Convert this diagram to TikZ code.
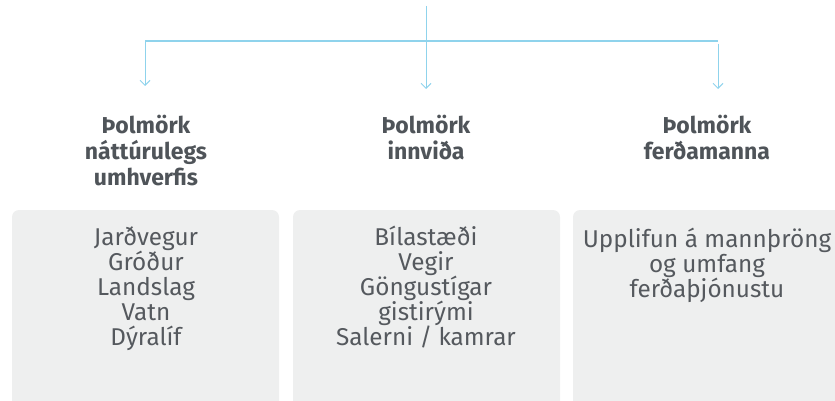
\documentclass[tikz,border=0pt]{standalone}
\usepackage{fontspec}
\setmainfont{Fira Sans}
\usetikzlibrary{arrows.meta}
\definecolor{linkblue}{HTML}{8FD3EC}
\definecolor{boxgray}{HTML}{EEEFEF}
\definecolor{headgray}{HTML}{4F5459}
\definecolor{bodygray}{HTML}{55595E}
\tikzset{
  link/.style={draw=linkblue, line width=1pt},
  linkarrow/.style={link, -{Straight Barb[length=5pt,width=10pt,line width=1pt]}},
  panel/.style={fill=boxgray, rounded corners=7pt, draw=none},
  header/.style={text=headgray, font=\fontsize{23}{26}\selectfont\bfseries, align=center, anchor=north, inner sep=0pt},
  body/.style={text=bodygray, font=\fontsize{24.3}{25}\selectfont, align=center, anchor=north, inner sep=0pt},
}
\begin{document}
\begin{tikzpicture}[x=1pt,y=-1pt]
\useasboundingbox (0,0) rectangle (835,401);
% panels
\fill[panel] (12,210) rectangle (279,410);
\fill[panel] (293,210) rectangle (560,410);
\fill[panel] (573,210) rectangle (850,410);
% connectors
\coordinate (top) at (426,6);
\coordinate (hl) at (145,41);
\coordinate (hr) at (718,41);
\coordinate (rs) at (718,44);
\node[header] (h1) at (146,115) {Þolmörk\\náttúrulegs\\umhverfis};
\node[header] (h2) at (426,115) {Þolmörk\\innviða};
\node[header] (h3) at (707,115) {Þolmörk\\ferðamanna};
\coordinate (a1) at (145,86);
\coordinate (a2) at (426,89);
\coordinate (a3) at (718,89);
\draw[link, line width=1.5pt] (hl) -- (hr);
\draw[linkarrow] (hl) -- (a1);
\draw[linkarrow] (top) -- (a2);
\draw[linkarrow] (rs) -- (a3);
% body texts
\node[body] (b1) at (146,226) {Jarðvegur\\Gróður\\Landslag\\Vatn\\Dýralíf};
\node[body] (b2) at (426,226) {Bílastæði\\Vegir\\Göngustígar\\gistirými\\Salerni / kamrar};
\node[body] (b3) at (707,228) {Upplifun á mannþröng\\og umfang\\ferðaþjónustu};
\end{tikzpicture}
\end{document}
